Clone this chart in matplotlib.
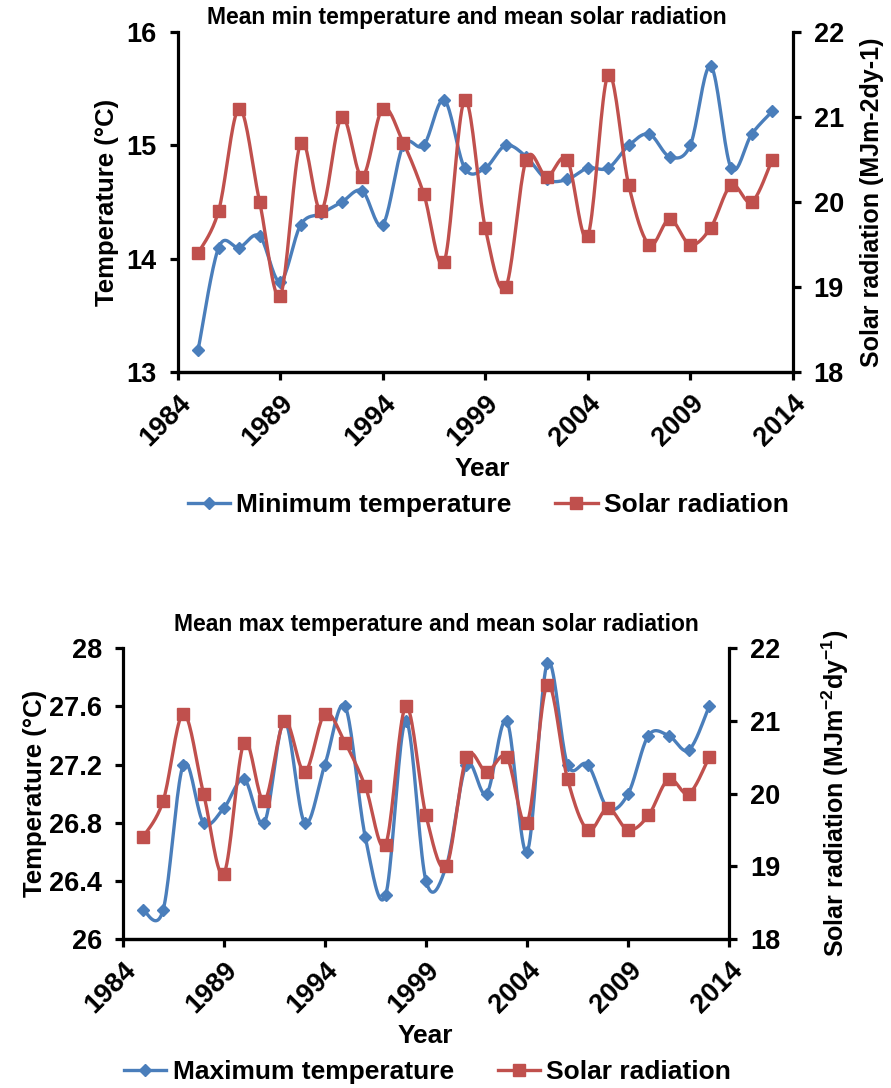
import matplotlib
matplotlib.use('Agg')
import matplotlib.pyplot as plt
import numpy as np

plt.rcParams['font.family'] = ['Liberation Sans', 'DejaVu Sans']
plt.rcParams['font.weight'] = 'bold'
plt.rcParams['mathtext.fontset'] = 'custom'
plt.rcParams['mathtext.rm'] = 'Liberation Sans:bold'

# data
years = np.arange(1985, 2014)
min_temp = [13.2, 14.1, 14.1, 14.2, 13.8, 14.3, 14.4, 14.5, 14.6, 14.3,
            15.0, 15.0, 15.4, 14.8, 14.8, 15.0, 14.9, 14.7, 14.7, 14.8,
            14.8, 15.0, 15.1, 14.9, 15.0, 15.7, 14.8, 15.1, 15.3]
max_temp = [26.2, 26.2, 27.2, 26.8, 26.9, 27.1, 26.8, 27.5, 26.8, 27.2,
            27.6, 26.7, 26.3, 27.5, 26.4, 26.5, 27.2, 27.0, 27.5, 26.6,
            27.9, 27.2, 27.2, 26.9, 27.0, 27.4, 27.4, 27.3, 27.6]
solar = [19.4, 19.9, 21.1, 20.0, 18.9, 20.7, 19.9, 21.0, 20.3, 21.1,
         20.7, 20.1, 19.3, 21.2, 19.7, 19.0, 20.5, 20.3, 20.5, 19.6,
         21.5, 20.2, 19.5, 19.8, 19.5, 19.7, 20.2, 20.0, 20.5]
xticks = [1984, 1989, 1994, 1999, 2004, 2009, 2014]

BLUE = '#4a7ebb'
RED = '#c0504d'


def smooth(x, y, n=20):
    # Excel-like smoothed line (Catmull-Rom through the points)
    x = np.asarray(x, float)
    y = np.asarray(y, float)
    px = np.concatenate([[x[0]], x, [x[-1]]])
    py = np.concatenate([[y[0]], y, [y[-1]]])
    t = np.linspace(0, 1, n, endpoint=False)
    xs, ys = [], []
    for i in range(1, len(px) - 2):
        for p, out in ((px, xs), (py, ys)):
            p0, p1, p2, p3 = p[i - 1], p[i], p[i + 1], p[i + 2]
            c1 = p1 + (p2 - p0) / 6
            c2 = p2 - (p3 - p1) / 6
            out.extend((1 - t) ** 3 * p1 + 3 * (1 - t) ** 2 * t * c1
                       + 3 * (1 - t) * t ** 2 * c2 + t ** 3 * p2)
    xs.append(x[-1])
    ys.append(y[-1])
    return xs, ys


def style(ax):
    for s in ax.spines.values():
        s.set_linewidth(2.3)
    ax.spines['top'].set_visible(False)
    ax.tick_params(width=2.3, length=6, labelsize=19.5, direction='out',
                   pad=9)


def panel(fig, rect, temp, temp_lim, temp_ticks, temp_lab, title, sol_label,
          title_xy, ylab_x, rlab_x, year_xy):
    ax = fig.add_axes(rect)
    ax2 = ax.twinx()
    xs, ys = smooth(years, temp)
    ax.plot(xs, ys, color=BLUE, lw=2.4, zorder=3)
    ax.plot(years, temp, ls='none', marker='D', ms=6.6, color=BLUE, zorder=4)
    xs, ys = smooth(years, solar)
    ax2.plot(xs, ys, color=RED, lw=2.4, zorder=3)
    ax2.plot(years, solar, ls='none', marker='s', ms=9.3, color=RED, zorder=4)
    ax.set_xlim(1984, 2014)
    ax.set_ylim(*temp_lim)
    ax.set_yticks(temp_ticks)
    ax.set_yticklabels(temp_lab)
    ax2.set_ylim(18, 22)
    ax2.set_yticks([18, 19, 20, 21, 22])
    ax.set_xticks(xticks)
    ax.set_xticklabels([str(v) for v in xticks], rotation=45, ha='right',
                       rotation_mode='anchor')
    style(ax)
    style(ax2)
    ax.tick_params(axis='x', pad=7)
    ax2.spines['left'].set_visible(False)
    ax.spines['right'].set_visible(False)
    fig.text(title_xy[0], title_xy[1], title, ha='center', va='center',
             fontsize=16.5, fontweight='bold')
    fig.text(ylab_x, rect[1] + rect[3] / 2, 'Temperature (\u00b0C)',
             rotation=90, ha='center', va='center', fontsize=18.5)
    fig.text(rlab_x, rect[1] + rect[3] / 2, sol_label, rotation=90,
             ha='center', va='center', fontsize=18)
    fig.text(year_xy[0], year_xy[1], 'Year', ha='center', va='center',
             fontsize=19)
    h1 = plt.Line2D([], [], color=BLUE, lw=2.4, marker='D', ms=6.6)
    h2 = plt.Line2D([], [], color=RED, lw=2.4, marker='s', ms=9.3)
    return ax, ax2, [h1, h2]


fig = plt.figure(figsize=(8.91, 10.88), dpi=100)

ax, ax2, hs = panel(fig, [0.1994, 0.6578, 0.6903, 0.3128], min_temp,
                    (13, 16), [13, 14, 15, 16], ['13', '14', '15', '16'],
                    'Mean min temperature and mean solar radiation',
                    'Solar radiation (MJm-2dy-1)',
                    (0.5236, 0.9835), 0.120, 0.979, (0.541, 0.569))
fig.legend(hs, ['Minimum temperature', 'Solar radiation'], loc='center',
           bbox_to_anchor=(0.548, 0.536), ncol=2, frameon=False,
           fontsize=19, handlelength=1.6, handletextpad=0.25,
           columnspacing=1.65)

bx, bx2, hs = panel(fig, [0.1377, 0.1369, 0.6808, 0.2672], max_temp,
                    (26, 28), [26, 26.4, 26.8, 27.2, 27.6, 28],
                    ['26', '26.4', '26.8', '27.2', '27.6', '28'],
                    'Mean max temperature and mean solar radiation',
                    'Solar radiation (MJm$^{\\mathrm{-2}}$dy$^{\\mathrm{-1}}$)',
                    (0.49, 0.4256), 0.039, 0.937, (0.477, 0.048))
fig.legend(hs, ['Maximum temperature', 'Solar radiation'], loc='center',
           bbox_to_anchor=(0.48, 0.0147), ncol=2, frameon=False,
           fontsize=19, handlelength=1.6, handletextpad=0.25,
           columnspacing=1.65)

fig.savefig('out.png', dpi=100)
